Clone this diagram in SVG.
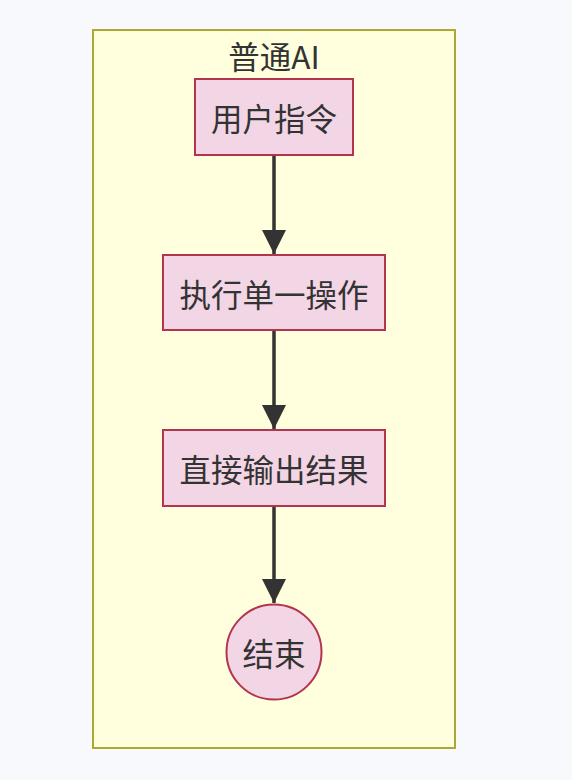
<svg xmlns="http://www.w3.org/2000/svg" width="572" height="780" viewBox="0 0 572 780">
<style>
.bg{fill:#f8f9fc}
.cluster{fill:#ffffde;stroke:#aaaa33;stroke-width:2}
.node{fill:#f3d6e6;stroke:#b3344f;stroke-width:2}
.lbl{font-family:"Noto Sans CJK SC","Noto Sans",sans-serif;font-size:31.5px;fill:#333;text-anchor:middle;dominant-baseline:central}
.edge{stroke:#333;stroke-width:3.5;fill:none}
</style>
<defs>
<marker id="arr" markerUnits="userSpaceOnUse" markerWidth="26" markerHeight="26" refX="24" refY="12" orient="auto">
<path d="M0,0 L24,12 L0,24 Z" fill="#333"/>
</marker>
</defs>
<rect class="bg" x="0" y="0" width="572" height="780"/>
<g id="cluster-normal-ai">
<rect class="cluster" x="93" y="30" width="362" height="718"/>
<text class="lbl" x="274" y="55">普通AI</text>
</g>
<g id="connectors">
<line class="edge" x1="274" y1="155" x2="274" y2="254" marker-end="url(#arr)"/>
<line class="edge" x1="274" y1="330" x2="274" y2="429" marker-end="url(#arr)"/>
<line class="edge" x1="274" y1="506" x2="274" y2="603" marker-end="url(#arr)"/>
</g>
<g id="node-user-cmd">
<rect class="node" x="195" y="79" width="158" height="76"/>
<text class="lbl" x="274" y="117">用户指令</text>
</g>
<g id="node-exec">
<rect class="node" x="163" y="255" width="222" height="75"/>
<text class="lbl" x="274" y="292.5">执行单一操作</text>
</g>
<g id="node-output">
<rect class="node" x="163" y="430" width="222" height="76"/>
<text class="lbl" x="274" y="468">直接输出结果</text>
</g>
<g id="node-end">
<circle class="node" cx="274" cy="652" r="47.5"/>
<text class="lbl" x="274" y="652">结束</text>
</g>
</svg>
